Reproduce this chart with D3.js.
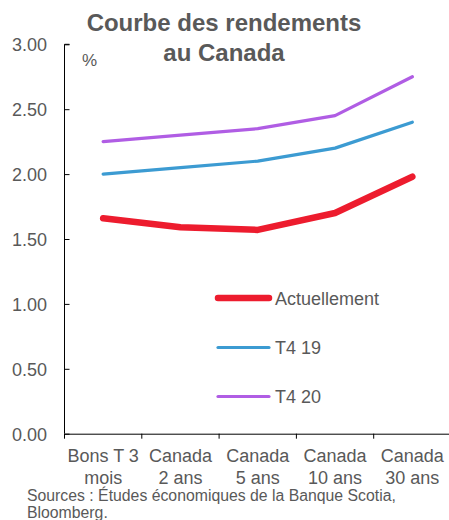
<!DOCTYPE html>
<html>
<head>
<meta charset="utf-8">
<script src="https://cdn.jsdelivr.net/npm/d3@7"></script>
<style>
  html, body { margin: 0; padding: 0; background: #fff; }
  svg { display: block; font-family: "Liberation Sans", Arial, sans-serif; }
</style>
</head>
<body>
<svg id="chart" width="449" height="520"></svg>
<script>
// Maturities along the curve (two-line labels)
const categories = ["Bons T 3|mois", "Canada|2 ans", "Canada|5 ans", "Canada|10 ans", "Canada|30 ans"];
// Yields, %
const actuellement = [1.66, 1.59, 1.57, 1.70, 1.98];
const t419 = [2.00, 2.05, 2.10, 2.20, 2.40];
const t420 = [2.25, 2.30, 2.35, 2.45, 2.75];
const yTicks = [0, 0.5, 1.0, 1.5, 2.0, 2.5, 3.0];

const series = [
  { name: "Actuellement", values: actuellement, color: "#ED1C2E", width: 6.5 },
  { name: "T4 19", values: t419, color: "#3C9BD2", width: 3.2 },
  { name: "T4 20", values: t420, color: "#B05DE4", width: 3.2 }
];

const svg = d3.select("#chart");
const textColor = "#595959";
const plotLeft = 64.5, plotRight = 451, plotTop = 44.3, plotBottom = 433.7;

const x = d3.scaleBand().domain(categories).range([plotLeft, plotRight]);
const y = d3.scaleLinear().domain([0, 3]).range([plotBottom, plotTop]);

// Title
svg.append("text")
  .attr("text-anchor", "middle")
  .attr("font-size", 24).attr("font-weight", "bold")
  .attr("fill", textColor)
  .selectAll("tspan")
  .data(["Courbe des rendements", "au Canada"])
  .join("tspan")
  .attr("x", 224)
  .attr("y", (d, i) => 31 + i * 29.5)
  .text(d => d);

// Y axis (ticks point inward)
const yAxis = svg.append("g")
  .attr("transform", `translate(${plotLeft},0)`)
  .call(d3.axisRight(y).tickValues(yTicks).tickSize(5).tickFormat(d3.format(".2f")));
yAxis.select(".domain").attr("stroke", "#000").attr("d", `M5,${plotTop}H0V${plotBottom}`);
yAxis.selectAll(".tick line").attr("stroke", "#000");
yAxis.selectAll(".tick text")
  .attr("x", -17.5).attr("dy", "0.36em").attr("text-anchor", "end")
  .attr("font-size", 18).attr("fill", textColor);

// Unit label
svg.append("text")
  .attr("x", 82).attr("y", 66)
  .attr("font-size", 17).attr("fill", textColor)
  .text("%");

// X axis
const xAxis = svg.append("g")
  .attr("transform", `translate(0,${plotBottom})`)
  .call(d3.axisBottom(x).tickSize(5).tickSizeOuter(0).tickFormat(""));
xAxis.select(".domain").attr("stroke", "#000");
xAxis.selectAll(".tick line")
  .attr("stroke", "#000")
  .attr("transform", d => `translate(${-x.bandwidth() / 2},0)`);

// Category labels
const labels = svg.append("g");
categories.forEach(c => {
  const cx = x(c) + x.bandwidth() / 2;
  const t = labels.append("text")
    .attr("text-anchor", "middle")
    .attr("font-size", 18).attr("fill", textColor);
  c.split("|").forEach((line, i) => {
    t.append("tspan").attr("x", cx).attr("y", 462 + i * 21.5).text(line);
  });
});

// Series lines
const line = d3.line()
  .x((d, i) => x(categories[i]) + x.bandwidth() / 2)
  .y(d => y(d));

svg.append("g").selectAll("path")
  .data(series.slice().reverse())
  .join("path")
  .attr("fill", "none")
  .attr("stroke", d => d.color)
  .attr("stroke-width", d => d.width)
  .attr("stroke-linecap", "round")
  .attr("stroke-linejoin", "round")
  .attr("d", d => line(d.values));

// Legend
const legendY = [298, 347.5, 396.5];
const legend = svg.append("g");
series.forEach((s, i) => {
  legend.append("line")
    .attr("x1", 218).attr("x2", 269)
    .attr("y1", legendY[i]).attr("y2", legendY[i])
    .attr("stroke", s.color).attr("stroke-width", s.width)
    .attr("stroke-linecap", "round");
  legend.append("text")
    .attr("x", 275).attr("y", legendY[i] + 6.5)
    .attr("font-size", 18).attr("fill", textColor)
    .text(s.name);
});

// Source note
svg.append("text")
  .attr("font-size", 15.8).attr("fill", textColor)
  .selectAll("tspan")
  .data(["Sources : Études économiques de la Banque Scotia,", "Bloomberg."])
  .join("tspan")
  .attr("x", 27)
  .attr("y", (d, i) => 501 + i * 17)
  .text(d => d);
</script>
</body>
</html>
